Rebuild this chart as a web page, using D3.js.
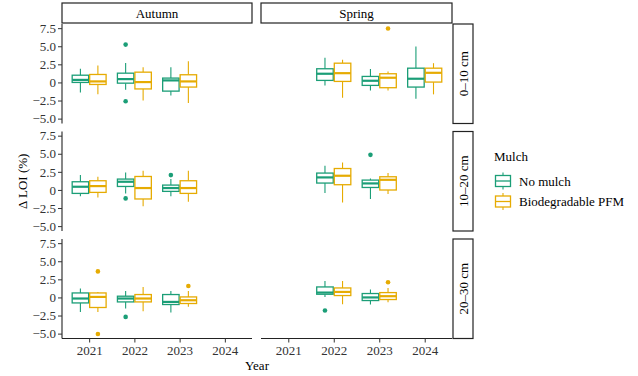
<!DOCTYPE html>
<html>
<head>
<meta charset="utf-8">
<script src="https://cdn.jsdelivr.net/npm/d3@7"></script>
<style>
  body { margin: 0; background: #fff; }
  text { font-family: "Liberation Serif", "Times New Roman", serif; }
</style>
</head>
<body>
<div id="chart"></div>
<script>
// categories
var years = ["2021", "2022", "2023", "2024"];
var seasons = ["Autumn", "Spring"];
var depths = ["0–10 cm", "10–20 cm", "20–30 cm"];
var mulches = ["No mulch", "Biodegradable PFM"];
var yTicks = [-5, -2.5, 0, 2.5, 5, 7.5];

// box stats: season, depth, year, mulch, lower whisker, q1, median, q3, upper whisker
var boxes = [
    ["Autumn", "0–10 cm", "2021", "No mulch", -1.4, 0.0, 0.35, 1.0, 1.9],
    ["Autumn", "0–10 cm", "2021", "Biodegradable PFM", -1.65, -0.28, 0.14, 1.1, 2.35],
    ["Autumn", "0–10 cm", "2022", "No mulch", -1.0, -0.1, 0.46, 1.28, 2.7],
    ["Autumn", "0–10 cm", "2022", "Biodegradable PFM", -2.48, -0.9, 0.05, 1.42, 2.1],
    ["Autumn", "0–10 cm", "2023", "No mulch", -1.8, -1.2, 0.28, 0.6, 2.1],
    ["Autumn", "0–10 cm", "2023", "Biodegradable PFM", -2.85, -0.64, 0.14, 1.06, 2.93],
    ["Spring", "0–10 cm", "2022", "No mulch", -0.41, 0.28, 1.2, 1.89, 3.4],
    ["Spring", "0–10 cm", "2022", "Biodegradable PFM", -2.1, 0.14, 1.28, 2.66, 3.12],
    ["Spring", "0–10 cm", "2023", "No mulch", -1.1, -0.41, 0.23, 0.83, 1.84],
    ["Spring", "0–10 cm", "2023", "Biodegradable PFM", -1.1, -0.73, 0.65, 1.2, 1.5],
    ["Spring", "0–10 cm", "2024", "No mulch", -2.25, -0.64, 0.51, 1.97, 4.96],
    ["Spring", "0–10 cm", "2024", "Biodegradable PFM", -1.65, 0.05, 1.33, 1.97, 2.66],

    ["Autumn", "10–20 cm", "2021", "No mulch", -0.89, -0.48, 0.44, 1.13, 2.05],
    ["Autumn", "10–20 cm", "2021", "Biodegradable PFM", -1.03, -0.34, 0.53, 1.27, 1.82],
    ["Autumn", "10–20 cm", "2022", "No mulch", -0.48, 0.48, 1.13, 1.5, 2.41],
    ["Autumn", "10–20 cm", "2022", "Biodegradable PFM", -2.27, -1.25, 0.26, 1.86, 2.64],
    ["Autumn", "10–20 cm", "2023", "No mulch", -0.89, -0.2, 0.26, 0.67, 1.5],
    ["Autumn", "10–20 cm", "2023", "Biodegradable PFM", -1.63, -0.48, 0.26, 1.27, 2.64],
    ["Spring", "10–20 cm", "2022", "No mulch", -0.43, 0.95, 1.73, 2.33, 3.33],
    ["Spring", "10–20 cm", "2022", "Biodegradable PFM", -1.72, 0.72, 1.96, 2.96, 3.79],
    ["Spring", "10–20 cm", "2023", "No mulch", -1.25, 0.34, 0.9, 1.36, 1.58],
    ["Spring", "10–20 cm", "2023", "Biodegradable PFM", -0.56, -0.01, 1.4, 1.82, 2.33],

    ["Autumn", "20–30 cm", "2021", "No mulch", -2.0, -0.76, -0.15, 0.62, 1.22],
    ["Autumn", "20–30 cm", "2021", "Biodegradable PFM", -2.0, -1.39, 0.07, 0.62, 0.76],
    ["Autumn", "20–30 cm", "2022", "No mulch", -1.53, -0.62, -0.15, 0.17, 0.9],
    ["Autumn", "20–30 cm", "2022", "Biodegradable PFM", -1.9, -0.62, -0.15, 0.4, 1.45],
    ["Autumn", "20–30 cm", "2023", "No mulch", -2.08, -0.98, -0.62, 0.4, 0.9],
    ["Autumn", "20–30 cm", "2023", "Biodegradable PFM", -1.3, -0.84, -0.39, 0.07, 0.9],
    ["Spring", "20–30 cm", "2022", "No mulch", 0.07, 0.44, 0.67, 1.45, 2.27],
    ["Spring", "20–30 cm", "2022", "Biodegradable PFM", -0.94, 0.26, 0.76, 1.31, 2.27],
    ["Spring", "20–30 cm", "2023", "No mulch", -0.98, -0.43, 0.0, 0.54, 1.09],
    ["Spring", "20–30 cm", "2023", "Biodegradable PFM", -0.66, -0.29, 0.17, 0.67, 1.31]
];

// outliers: season, depth, year, mulch, value
var outliers = [
    ["Autumn", "0–10 cm", "2022", "No mulch", 5.23],
    ["Autumn", "0–10 cm", "2022", "No mulch", -2.6],
    ["Spring", "0–10 cm", "2023", "Biodegradable PFM", 7.45],
    ["Autumn", "10–20 cm", "2022", "No mulch", -1.17],
    ["Autumn", "10–20 cm", "2023", "No mulch", 2.05],
    ["Spring", "10–20 cm", "2023", "No mulch", 4.85],
    ["Autumn", "20–30 cm", "2021", "Biodegradable PFM", 3.6],
    ["Autumn", "20–30 cm", "2021", "Biodegradable PFM", -5.05],
    ["Autumn", "20–30 cm", "2022", "No mulch", -2.69],
    ["Autumn", "20–30 cm", "2023", "Biodegradable PFM", 1.58],
    ["Spring", "20–30 cm", "2022", "No mulch", -1.8],
    ["Spring", "20–30 cm", "2023", "Biodegradable PFM", 2.09]
];

var W = 638, H = 376;
var svg = d3.select("#chart").append("svg")
    .attr("width", W).attr("height", H);

// panel layout
var colX = [[62, 252], [261, 452]];
var rowTop = [24, 131.5, 239], panelH = 99.5;

var color = d3.scaleOrdinal().domain(mulches).range(["#1b9e77", "#e6ab02"]);

// shared y domain with 5% expansion like ggplot
var allVals = [];
boxes.forEach(function (b) { allVals.push(b[4], b[8]); });
outliers.forEach(function (o) { allVals.push(o[4]); });
var ext = d3.extent(allVals), pad = (ext[1] - ext[0]) * 0.05;
var yDomain = [ext[0] - pad, ext[1] + pad];

var x = colX.map(function (c) {
    return d3.scalePoint().domain(years).range(c).padding(0.6);
});
var y = rowTop.map(function (t) {
    return d3.scaleLinear().domain(yDomain).range([t + panelH, t]);
});

var fmt = function (d) { return d === 0 ? "0" : d3.format(".1f")(d); };
var dodge = d3.scaleBand().domain(mulches).paddingInner(0.06);

function styleAxis(ax) {
    ax.attr("font-family", null).attr("font-size", null);
    ax.selectAll(".tick line").attr("stroke", "#333");
    ax.selectAll(".tick text").attr("fill", "#333")
        .style("font-size", "13px")
        .style("font-family", "'Liberation Serif', serif");
}

seasons.forEach(function (s, ci) {
    var xs = x[ci];
    var step = xs.step();
    dodge.range([-0.375 * step, 0.375 * step]);
    var bw = dodge.bandwidth();

    depths.forEach(function (dp, ri) {
        var ys = y[ri];
        var g = svg.append("g");

        boxes.filter(function (b) { return b[0] === s && b[1] === dp; }).forEach(function (b) {
            var cx = xs(b[2]) + dodge(b[3]) + bw / 2;
            var col = color(b[3]);
            var bg = g.append("g").attr("stroke", col);
            bg.append("line").attr("x1", cx).attr("x2", cx)
                .attr("y1", ys(b[8])).attr("y2", ys(b[7])).attr("stroke-width", 1.1);
            bg.append("line").attr("x1", cx).attr("x2", cx)
                .attr("y1", ys(b[5])).attr("y2", ys(b[4])).attr("stroke-width", 1.1);
            bg.append("rect")
                .attr("x", cx - bw / 2).attr("width", bw)
                .attr("y", ys(b[7])).attr("height", ys(b[5]) - ys(b[7]))
                .attr("fill", "#fff").attr("stroke-width", 1.3);
            bg.append("line").attr("x1", cx - bw / 2).attr("x2", cx + bw / 2)
                .attr("y1", ys(b[6])).attr("y2", ys(b[6])).attr("stroke-width", 2.2);
        });

        outliers.filter(function (o) { return o[0] === s && o[1] === dp; }).forEach(function (o) {
            g.append("circle")
                .attr("cx", xs(o[2]) + dodge(o[3]) + bw / 2)
                .attr("cy", ys(o[4])).attr("r", 2.3)
                .attr("fill", color(o[3]));
        });

        // y axis on left column only
        if (ci === 0) {
            var ax = svg.append("g").attr("transform", "translate(" + colX[0][0] + ",0)")
                .call(d3.axisLeft(ys).tickValues(yTicks).tickFormat(fmt).tickSize(4).tickPadding(2).tickSizeOuter(0));
            ax.select(".domain").attr("stroke", "#222").attr("stroke-width", 1.1)
                .attr("d", "M0," + (rowTop[ri] + panelH) + "V" + rowTop[ri]);
            styleAxis(ax);
        }
        // x axis on bottom row only
        if (ri === 2) {
            var bx = svg.append("g").attr("transform", "translate(0," + (rowTop[2] + panelH) + ")")
                .call(d3.axisBottom(xs).tickSize(4).tickPadding(3).tickSizeOuter(0));
            bx.select(".domain").attr("stroke", "#222").attr("stroke-width", 1.1)
                .attr("d", "M" + colX[ci][0] + ",0H" + colX[ci][1]);
            styleAxis(bx);
        }
    });

    // top strip
    svg.append("rect").attr("x", colX[ci][0]).attr("y", 3)
        .attr("width", colX[ci][1] - colX[ci][0]).attr("height", 20)
        .attr("fill", "#fff").attr("stroke", "#222").attr("stroke-width", 1.2);
    svg.append("text").attr("x", (colX[ci][0] + colX[ci][1]) / 2).attr("y", 17.5)
        .attr("text-anchor", "middle").style("font-size", "13px").text(s);
});

// right strips
depths.forEach(function (dp, ri) {
    svg.append("rect").attr("x", 453).attr("y", rowTop[ri])
        .attr("width", 20).attr("height", panelH)
        .attr("fill", "#fff").attr("stroke", "#222").attr("stroke-width", 1.2);
    var cy = rowTop[ri] + panelH / 2;
    svg.append("text").attr("transform", "translate(467.5," + cy + ") rotate(-90)")
        .attr("text-anchor", "middle").style("font-size", "13px").text(dp);
});

// axis titles
svg.append("text").attr("x", (colX[0][0] + colX[1][1]) / 2).attr("y", 370)
    .attr("text-anchor", "middle").style("font-size", "13px").text("Year");
svg.append("text").attr("transform", "translate(27," + (rowTop[0] + (rowTop[2] + panelH - rowTop[0]) / 2) + ") rotate(-90)")
    .attr("text-anchor", "middle").style("font-size", "13px").text("Δ LOI (%)");

// legend
var lg = svg.append("g").attr("transform", "translate(494,0)");
lg.append("text").attr("x", 0).attr("y", 161).style("font-size", "13px").text("Mulch");
mulches.forEach(function (m, i) {
    var cy = 181 + i * 20.5, cx = 9;
    var k = lg.append("g").attr("stroke", color(m));
    k.append("line").attr("x1", cx).attr("x2", cx).attr("y1", cy - 8.5).attr("y2", cy + 8.5).attr("stroke-width", 1.1);
    k.append("rect").attr("x", cx - 7.5).attr("y", cy - 5.5).attr("width", 15).attr("height", 11)
        .attr("fill", "#fff").attr("stroke-width", 1.3);
    k.append("line").attr("x1", cx - 7.5).attr("x2", cx + 7.5).attr("y1", cy).attr("y2", cy).attr("stroke-width", 1.3);
    lg.append("text").attr("x", 25).attr("y", cy + 4.5).style("font-size", "13px").text(m);
});
</script>
</body>
</html>
